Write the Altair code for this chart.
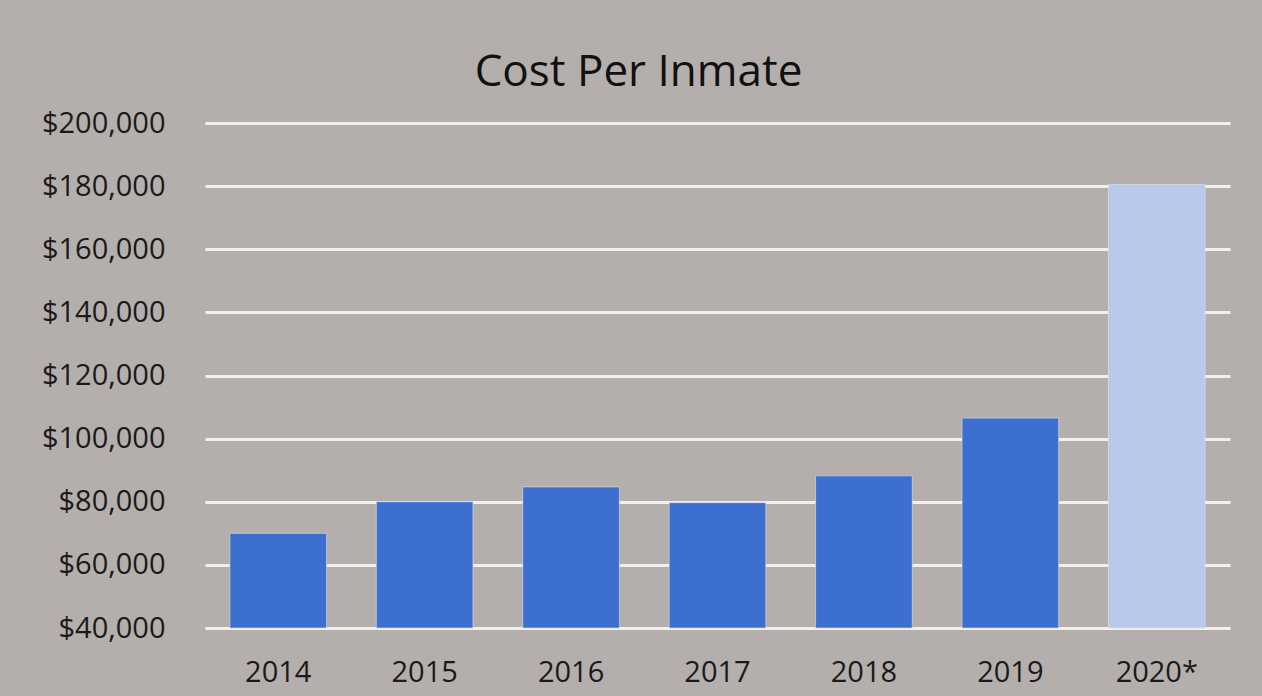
import altair as alt
import pandas as pd

years = ["2014", "2015", "2016", "2017", "2018", "2019", "2020*"]
costs = [70000, 80000, 84700, 79700, 88200, 106500, 180500]
kinds = ["actual", "actual", "actual", "actual", "actual", "actual", "projected"]

df = pd.DataFrame({"year": years, "cost": costs, "kind": kinds})

FONT = "Open Sans"

chart = alt.Chart(df).mark_bar(stroke="#dfe3ea", strokeWidth=1, strokeOpacity=0.6).encode(
    x=alt.X("year:N", sort=years, title=None,
            scale=alt.Scale(paddingInner=0.34, paddingOuter=0.17),
            axis=alt.Axis(labelAngle=0, labelFontSize=29, labelFont=FONT, labelColor="#1a1a1a",
                          ticks=False, domain=False, labelPadding=30, grid=False)),
    y=alt.Y("cost:Q", title=None,
            scale=alt.Scale(domain=[40000, 200000], nice=False, clamp=True),
            axis=alt.Axis(values=[40000, 60000, 80000, 100000, 120000, 140000, 160000, 180000, 200000],
                          format="$,.0f", labelFontSize=29, labelFont=FONT, labelColor="#1a1a1a",
                          ticks=False, domain=False, labelPadding=40,
                          grid=True, gridColor="#f2f0ee", gridWidth=3)),
    y2=alt.datum(40000),
    color=alt.Color("kind:N", legend=None,
                    scale=alt.Scale(domain=["actual", "projected"], range=["#3d6fd0", "#b9c9ec"])),
).properties(
    width=1025,
    height=505,
    title=alt.Title("Cost Per Inmate", fontSize=44, font=FONT, fontWeight="normal",
                    color="#111111", anchor="middle", dx=-79, offset=14),
    background="#b4afac",
    padding={"left": 205, "top": 123, "right": 32, "bottom": 68},
    autosize="none",
).configure_view(stroke=None)

chart.save("out.html", embed_options={"renderer": "svg", "actions": False})
